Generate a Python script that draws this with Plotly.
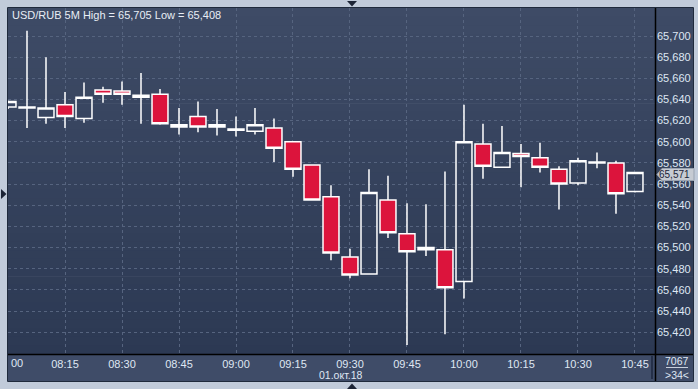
import plotly.graph_objects as go

# ---------------- data ----------------
times = ["08:00", "08:05", "08:10", "08:15", "08:20", "08:25", "08:30", "08:35", "08:40", "08:45",
         "08:50", "08:55", "09:00", "09:05", "09:10", "09:15", "09:20", "09:25", "09:30", "09:35",
         "09:40", "09:45", "09:50", "09:55", "10:00", "10:05", "10:10", "10:15", "10:20", "10:25",
         "10:30", "10:35", "10:40", "10:45"]
open_ = [65.633, 65.632, 65.623, 65.635, 65.622, 65.649, 65.648, 65.642, 65.645, 65.616,
         65.624, 65.616, 65.611, 65.610, 65.613, 65.600, 65.578, 65.548, 65.491, 65.475,
         65.545, 65.513, 65.498, 65.498, 65.468, 65.598, 65.576, 65.589, 65.585, 65.574,
         65.561, 65.580, 65.580, 65.553]
high = [65.639, 65.705, 65.680, 65.647, 65.656, 65.652, 65.657, 65.665, 65.650, 65.632,
        65.638, 65.631, 65.624, 65.632, 65.622, 65.600, 65.578, 65.559, 65.499, 65.574,
        65.568, 65.542, 65.541, 65.572, 65.635, 65.617, 65.615, 65.598, 65.599, 65.577,
        65.585, 65.590, 65.582, 65.571]
low = [65.631, 65.613, 65.617, 65.613, 65.618, 65.637, 65.635, 65.617, 65.616, 65.607,
       65.609, 65.606, 65.605, 65.607, 65.581, 65.567, 65.545, 65.488, 65.471, 65.475,
       65.509, 65.408, 65.492, 65.418, 65.452, 65.565, 65.576, 65.557, 65.571, 65.536,
       65.559, 65.575, 65.532, 65.552]
close = [65.638, 65.633, 65.632, 65.624, 65.642, 65.645, 65.645, 65.644, 65.617, 65.614,
         65.614, 65.614, 65.612, 65.616, 65.594, 65.574, 65.545, 65.495, 65.474, 65.552,
         65.514, 65.496, 65.500, 65.462, 65.600, 65.577, 65.590, 65.586, 65.576, 65.560,
         65.582, 65.581, 65.551, 65.571]

price_ticks = [65.42, 65.44, 65.46, 65.48, 65.50, 65.52, 65.54, 65.56, 65.58, 65.60,
               65.62, 65.64, 65.66, 65.68, 65.70]
price_labels = ["65,420", "65,440", "65,460", "65,480", "65,500", "65,520", "65,540", "65,560",
                "65,580", "65,600", "65,620", "65,640", "65,660", "65,680", "65,700"]
time_ticks = ["08:15", "08:30", "08:45", "09:00", "09:15", "09:30", "09:45", "10:00",
              "10:15", "10:30", "10:45"]
date_label = "01.окт.18"
title_text = "USD/RUB 5M High = 65,705 Low = 65,408"
bars_count_text = "7067"
visible_text = ">34<"

DAY = "2018-10-01 "
x = [DAY + t for t in times]

# ---------------- geometry helpers (pixels -> paper) ----------------
W, H = 698, 389
L, R, T, B = 8, 655, 8, 354
PW, PH = R - L, B - T


def px(xp):
    return (xp - L) / PW


def py(yp):
    return (B - yp) / PH


FONT = "Liberation Sans Narrow, Liberation Sans, Arial, sans-serif"
TXT = "#dfe7f3"

fig = go.Figure()
fig.add_trace(go.Candlestick(
    x=x, open=open_, high=high, low=low, close=close,
    increasing=dict(line=dict(color="white", width=1.5), fillcolor="rgba(0,0,0,0)"),
    decreasing=dict(line=dict(color="white", width=1.5), fillcolor="#dc143c"),
    whiskerwidth=0, showlegend=False, hoverinfo="skip",
))

shapes = []
# gradient background of plot + right axis area
N = 40
c_top = (0x3e, 0x4b, 0x66)
c_bot = (0x2c, 0x39, 0x53)
for i in range(N):
    f = (i + 0.5) / N
    c = tuple(round(c_top[k] + (c_bot[k] - c_top[k]) * f) for k in range(3))
    y0 = T + PH * i / N
    y1 = T + PH * (i + 1) / N
    shapes.append(dict(type="rect", xref="paper", yref="paper", layer="below",
                       x0=px(L), x1=px(693), y0=py(y1) - 0.002, y1=py(y0),
                       fillcolor="rgb(%d,%d,%d)" % c, line=dict(width=0)))
# bottom axis band
shapes.append(dict(type="rect", xref="paper", yref="paper", layer="below",
                   x0=px(L), x1=px(693), y0=py(381), y1=py(B),
                   fillcolor="#3f4c68", line=dict(width=0)))
# outer dark frame
shapes.append(dict(type="rect", xref="paper", yref="paper", layer="above",
                   x0=px(7.5), x1=px(693.5), y0=py(381.5), y1=py(7.5),
                   line=dict(color="#1f2a3c", width=1), fillcolor="rgba(0,0,0,0)"))
# black axis separators
shapes.append(dict(type="line", xref="paper", yref="paper", layer="above",
                   x0=px(655.5), x1=px(655.5), y0=py(381), y1=py(8),
                   line=dict(color="#000000", width=1.5)))
shapes.append(dict(type="line", xref="paper", yref="paper", layer="above",
                   x0=px(8), x1=px(693), y0=py(354.5), y1=py(354.5),
                   line=dict(color="#000000", width=1.5)))
# small separator in time axis
shapes.append(dict(type="line", xref="paper", yref="paper", layer="above",
                   x0=px(652), x1=px(652), y0=py(379), y1=py(356),
                   line=dict(color="#253049", width=2)))
# line in bottom-right box
shapes.append(dict(type="line", xref="paper", yref="paper", layer="above",
                   x0=px(666), x1=px(688), y0=py(367.5), y1=py(367.5),
                   line=dict(color="#c8d0dc", width=1)))


# navigation triangles in the frame
def tri(pts, color="#1c2436"):
    path = "M " + " L ".join("%f,%f" % (px(a), py(b)) for a, b in pts) + " Z"
    return dict(type="path", xref="paper", yref="paper", layer="above", path=path,
                fillcolor=color, line=dict(width=0))


shapes.append(tri([(347, 1), (357, 1), (352, 6.5)]))
shapes.append(tri([(1, 189), (1, 199), (6.5, 194)]))
shapes.append(tri([(347, 389), (357, 389), (352, 383.5)]))
# current price marker (arrow box) on right axis
last = close[-1]
shapes.append(dict(type="path", xref="paper", yref="y", layer="above",
                   xsizemode="pixel", ysizemode="pixel", xanchor=1, yanchor=last,
                   path="M 2,-2 L 7,4 L 39,4 L 39,-8 L 7,-8 Z",
                   fillcolor="#c6cbd3", line=dict(color="#9aa3b0", width=1)))

annotations = [
    dict(text=title_text, xref="paper", yref="paper", x=px(10), y=py(14.5),
         xanchor="left", yanchor="middle", showarrow=False,
         font=dict(family=FONT, size=11, color="#e8edf5")),
    dict(text="00", xref="x", yref="paper", x=x[0], y=py(362.5), xshift=1,
         xanchor="left", yanchor="middle", showarrow=False,
         font=dict(family=FONT, size=11, color=TXT)),
    dict(text=date_label, xref="paper", yref="paper", x=px(341), y=py(375),
         xanchor="center", yanchor="middle", showarrow=False,
         font=dict(family=FONT, size=10.5, color=TXT)),
    dict(text=bars_count_text, xref="paper", yref="paper", x=px(677), y=py(361),
         xanchor="center", yanchor="middle", showarrow=False,
         font=dict(family=FONT, size=10.5, color=TXT)),
    dict(text=visible_text, xref="paper", yref="paper", x=px(677), y=py(374.5),
         xanchor="center", yanchor="middle", showarrow=False,
         font=dict(family=FONT, size=10.5, color=TXT)),
    dict(text=("%.3f" % last).replace(".", ","), xref="paper", yref="y", x=px(674.5), y=last,
         yshift=-2, xanchor="center", yanchor="middle", showarrow=False,
         font=dict(family=FONT, size=10, color="#1a2438")),
]

ymin = 65.700 - (B - 36) / 1058.0
ymax = 65.700 + (36 - T) / 1058.0

fig.update_layout(
    template="none",
    width=W, height=H,
    margin=dict(l=L, r=W - R, t=T, b=H - B, pad=0, autoexpand=False),
    paper_bgcolor="#c1cbda",
    plot_bgcolor="rgba(0,0,0,0)",
    showlegend=False,
    boxgap=0.16, boxgroupgap=0,
    shapes=shapes,
    annotations=annotations,
    xaxis=dict(
        type="date",
        automargin=False,
        range=[DAY + "08:00:00", DAY + "10:50:16"],
        rangeslider=dict(visible=False),
        tickvals=[DAY + t for t in time_ticks],
        ticktext=time_ticks,
        ticks="", showline=False, zeroline=False,
        showgrid=True, gridcolor="#56647f", gridwidth=1, griddash="3px,3px",
        tickfont=dict(family=FONT, size=11, color=TXT),
        ticklabelstandoff=2,
    ),
    yaxis=dict(
        side="right",
        automargin=False,
        range=[ymin, ymax],
        tickvals=price_ticks,
        ticktext=price_labels,
        ticks="", showline=False, zeroline=False,
        showgrid=True, gridcolor="#56647f", gridwidth=1, griddash="3px,3px",
        tickfont=dict(family=FONT, size=11, color=TXT),
        ticklabelstandoff=1,
    ),
)

fig.write_html("out.html")
